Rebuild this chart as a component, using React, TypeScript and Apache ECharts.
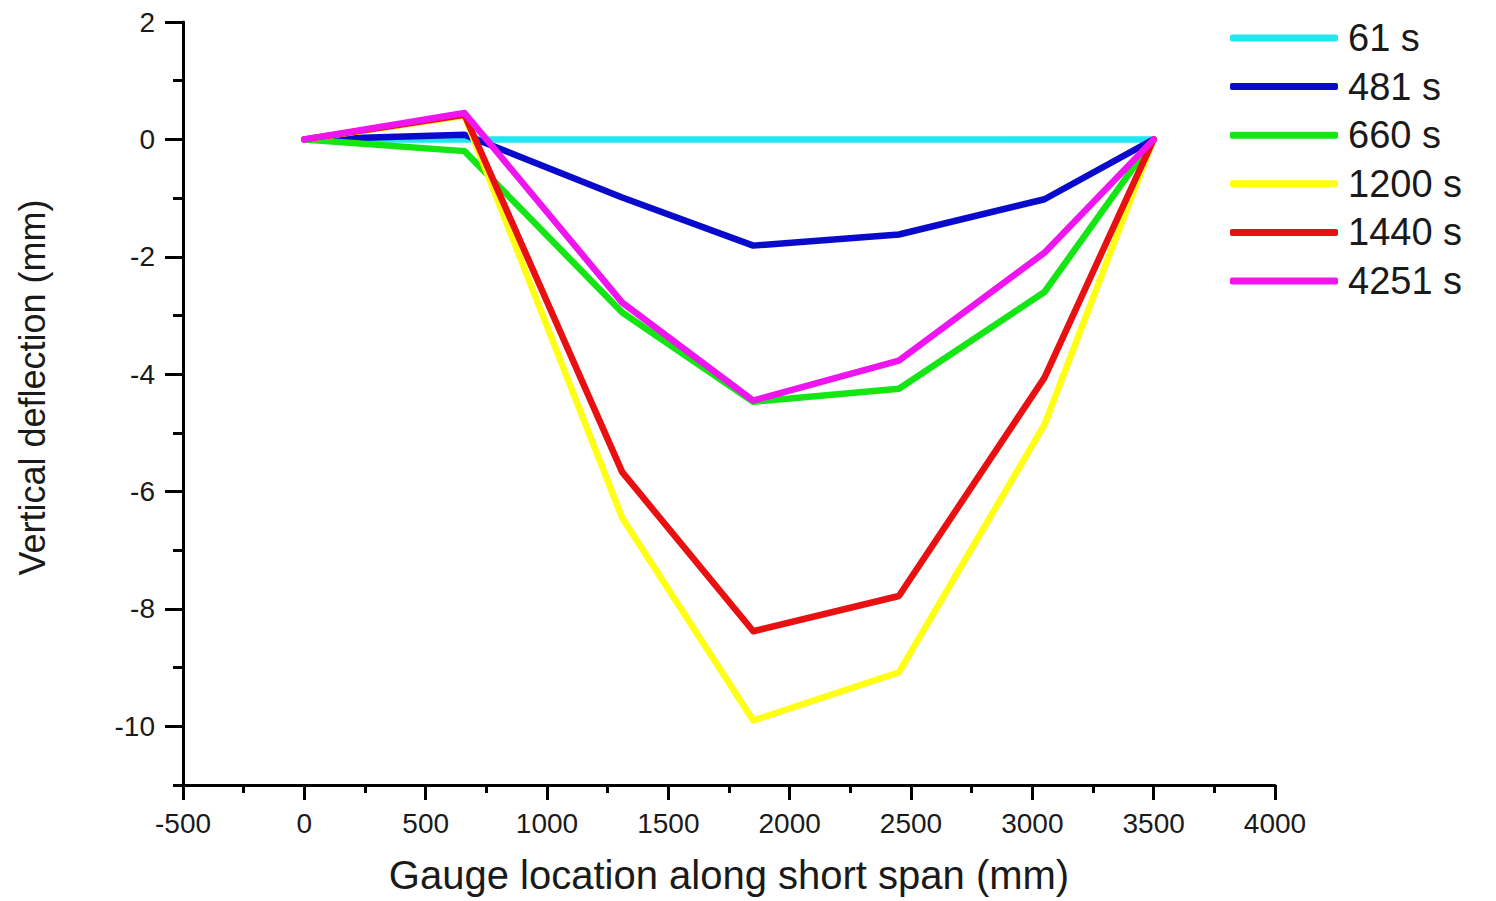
import React, { useEffect, useRef } from "react";
import * as echarts from "echarts";

const gaugeX = [0, 660, 1310, 1850, 2450, 3050, 3500];
const seriesNames = ["61 s", "481 s", "660 s", "1200 s", "1440 s", "4251 s"];
const s61 = [0, 0, 0, 0, 0, 0, 0];
const s481 = [0, 0.08, -0.99, -1.81, -1.62, -1.02, 0];
const s660 = [0, -0.2, -2.95, -4.47, -4.25, -2.6, 0];
const s1200 = [0, 0.4, -6.45, -9.9, -9.08, -4.86, 0];
const s1440 = [0, 0.42, -5.67, -8.38, -7.78, -4.06, 0];
const s4251 = [0, 0.45, -2.78, -4.45, -3.77, -1.93, 0];
const seriesColors = ["#22e6f0", "#0a0acc", "#14e614", "#ffff14", "#e81010", "#f014f0"];
const yMajorTicks = [-10, -8, -6, -4, -2, 0, 2];

const FONT = "Liberation Sans, Arial, sans-serif";

export default function App() {
  const ref = useRef<HTMLDivElement>(null);
  useEffect(() => {
    if (!ref.current) return;
    const chart = echarts.init(ref.current, undefined, { renderer: "svg" });
    const all = [s61, s481, s660, s1200, s1440, s4251];
    chart.setOption({
      animation: false,
      backgroundColor: "#ffffff",
      textStyle: { fontFamily: FONT },
      grid: { left: 183, right: 221, top: 22, bottom: 116, outerBoundsMode: "none", containLabel: false },
      legend: {
        orient: "vertical",
        left: 1225,
        top: 14,
        icon: "roundRect",
        itemWidth: 108,
        itemHeight: 7,
        itemGap: 10.6,
        textStyle: { fontSize: 38, color: "#1a1a1a", fontFamily: FONT, padding: [0, 0, 0, 5] },
        data: seriesNames,
      },
      xAxis: {
        type: "value",
        min: -500,
        max: 4000,
        interval: 500,
        name: "Gauge location along short span (mm)",
        nameLocation: "middle",
        nameGap: 70,
        nameTextStyle: { fontSize: 40, color: "#1a1a1a", fontFamily: FONT },
        axisLine: { show: true, onZero: false, lineStyle: { color: "#000", width: 3 } },
        axisTick: { show: true, inside: false, length: 15, lineStyle: { color: "#000", width: 3 } },
        minorTick: { show: true, splitNumber: 2, length: 8, lineStyle: { color: "#000", width: 3 } },
        axisLabel: {
          fontSize: 28,
          color: "#1a1a1a",
          margin: 24,
          fontFamily: FONT,
          formatter: (v: number) => String(v),
        },
        splitLine: { show: false },
        minorSplitLine: { show: false },
      },
      yAxis: [
        {
          type: "value",
          min: -11,
          max: 2,
          interval: 1,
          name: "Vertical deflection (mm)",
          nameLocation: "middle",
          nameGap: 133,
          nameRotate: 90,
          nameTextStyle: { fontSize: 36, color: "#1a1a1a", fontFamily: FONT, padding: [0, 0, 0, 32] },
          axisLine: { show: true, onZero: false, lineStyle: { color: "#000", width: 3 } },
          axisTick: { show: true, length: 18, customValues: yMajorTicks, lineStyle: { color: "#000", width: 3 } },
          axisLabel: {
            fontSize: 28,
            color: "#1a1a1a",
            margin: 28,
            customValues: yMajorTicks,
            fontFamily: FONT,
            formatter: (v: number) => String(v),
          },
          splitLine: { show: false },
        },
        {
          type: "value",
          min: -11,
          max: 2,
          interval: 1,
          position: "left",
          axisLine: { show: false, onZero: false },
          axisTick: { show: true, length: 10, lineStyle: { color: "#000", width: 3 } },
          axisLabel: { show: false },
          splitLine: { show: false },
        },
      ],
      series: seriesNames.map((name, i) => ({
        name,
        type: "line",
        yAxisIndex: 0,
        showSymbol: false,
        symbol: "none",
        color: seriesColors[i],
        lineStyle: { width: 6.5, color: seriesColors[i], join: "round", cap: "round" },
        data: gaugeX.map((x, j) => [x, all[i][j]]),
      })),
    });
    return () => chart.dispose();
  }, []);
  return (
    <div
      ref={ref}
      style={{ position: "fixed", left: 0, top: 0, width: 1496, height: 901, background: "#fff" }}
    />
  );
}
